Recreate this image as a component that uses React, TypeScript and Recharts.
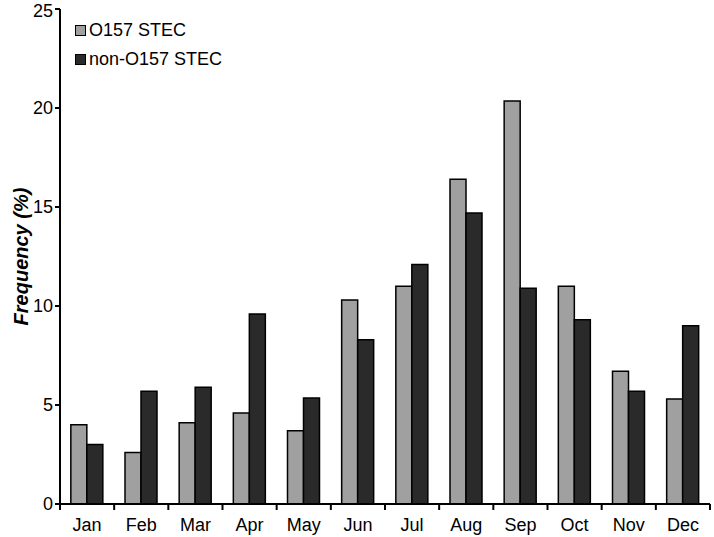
import React from "react"
import { BarChart, Bar, XAxis, YAxis } from "recharts"

const months = ["Jan", "Feb", "Mar", "Apr", "May", "Jun", "Jul", "Aug", "Sep", "Oct", "Nov", "Dec"]
const o157 = [4.0, 2.6, 4.1, 4.6, 3.7, 10.3, 11.0, 16.4, 20.35, 11.0, 6.7, 5.3]
const nonO157 = [3.0, 5.7, 5.9, 9.6, 5.35, 8.3, 12.1, 14.7, 10.9, 9.3, 5.7, 9.0]
const yTicks = [0, 5, 10, 15, 20, 25]

const series = [
  { key: "o157", name: "O157 STEC", color: "#a0a0a0" },
  { key: "non", name: "non-O157 STEC", color: "#2a2a2a" },
]

const data = months.map((m, i) => ({ month: m, o157: o157[i], non: nonO157[i] }))

const font = "'Liberation Sans', Arial, sans-serif"
const TICK_GAP = 8

// month label plus a tick mark on the category's left edge (and right edge for the last one)
function MonthTick(props: any) {
  const { x, y, payload, index, visibleTicksCount } = props
  const half = payload.offset || 0
  const axisY = y - TICK_GAP
  return (
    <g>
      <line x1={x - half} x2={x - half} y1={axisY} y2={axisY + 6} stroke="#000" strokeWidth={2} />
      {index === visibleTicksCount - 1 && (
        <line x1={x + half} x2={x + half} y1={axisY} y2={axisY + 6} stroke="#000" strokeWidth={2} />
      )}
      <text x={x} y={y + 6} dy="0.71em" textAnchor="middle" fontSize={18} fill="#000" fontFamily={font}>
        {payload.value}
      </text>
    </g>
  )
}

// legend sits inside the plot, so keep it out of recharts' layout
function LegendBox() {
  return (
    <div style={{ position: "absolute", left: 75, top: 16, fontFamily: font, fontSize: 18, color: "#000" }}>
      {series.map((s) => (
        <div key={s.key} style={{ display: "flex", alignItems: "center", height: 29 }}>
          <span
            style={{
              width: 9,
              height: 9,
              background: s.color,
              border: "1px solid #000",
              marginRight: 3,
              display: "inline-block",
            }}
          />
          <span>{s.name}</span>
        </div>
      ))}
    </div>
  )
}

export default function App() {
  return (
    <div style={{ position: "absolute", left: 0, top: 0, width: 714, height: 537, background: "#fff" }}>
      <BarChart
        width={714}
        height={537}
        data={data}
        margin={{ top: 9, right: 4, bottom: 0, left: 0 }}
        barCategoryGap="20%"
        barGap={0}
      >
        <XAxis
          dataKey="month"
          tickLine={false}
          axisLine={{ stroke: "#000", strokeWidth: 2 }}
          tick={<MonthTick />}
          tickSize={0}
          tickMargin={TICK_GAP}
          height={33}
          interval={0}
        />
        <YAxis
          domain={[0, 25]}
          ticks={yTicks}
          width={60}
          axisLine={{ stroke: "#000", strokeWidth: 2 }}
          tickLine={{ stroke: "#000", strokeWidth: 2 }}
          tickSize={5}
          tick={{ fontSize: 18, fill: "#000", fontFamily: font }}
          label={{
            value: "Frequency (%)",
            angle: -90,
            position: "insideLeft",
            offset: 21,
            style: { fontSize: 20, fontWeight: "bold", fontStyle: "italic", fill: "#000", fontFamily: font, textAnchor: "middle" },
          }}
        />
        {series.map((s) => (
          <Bar
            key={s.key}
            dataKey={s.key}
            name={s.name}
            fill={s.color}
            stroke="#000"
            strokeWidth={1.5}
            isAnimationActive={false}
          />
        ))}
      </BarChart>
      <LegendBox />
    </div>
  )
}
